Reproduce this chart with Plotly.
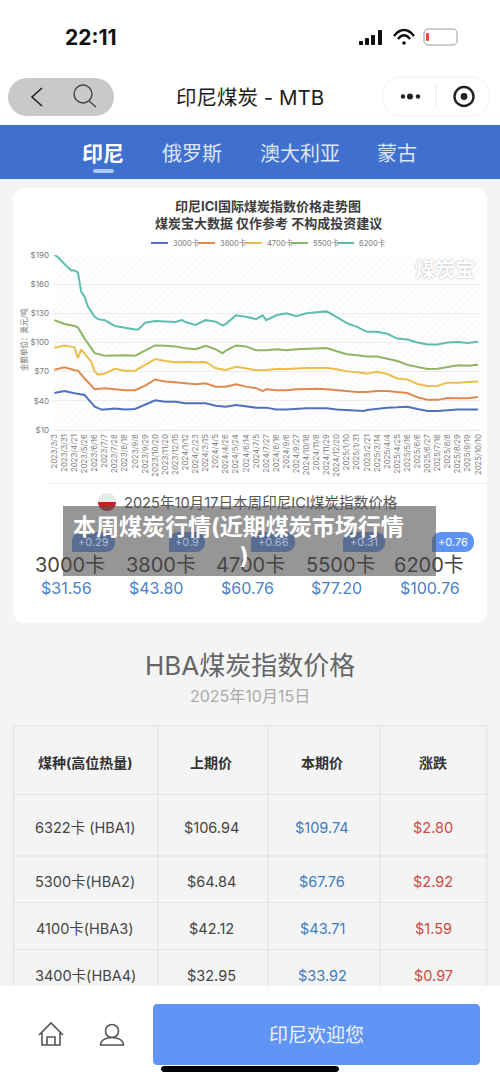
import plotly.graph_objects as go

FONT = "Inter, Noto Sans CJK SC"
W, H = 500, 1083

tick_weeks = list(range(0, 127, 3))
tick_labels = ["2023/3/3", "2023/3/31", "2023/4/21", "2023/5/26", "2023/6/16", "2023/7/7", "2023/7/28", "2023/8/18",
               "2023/9/8", "2023/9/29", "2023/10/20", "2023/11/20", "2023/12/15", "2024/1/12", "2024/2/23", "2024/3/15",
               "2024/4/5", "2024/4/26", "2024/5/24", "2024/6/14", "2024/7/5", "2024/7/27", "2024/8/16", "2024/9/6",
               "2024/9/27", "2024/10/18", "2024/11/8", "2024/11/29", "2024/12/20", "2025/1/10", "2025/1/31", "2025/2/21",
               "2025/3/14", "2025/4/4", "2025/4/25", "2025/5/16", "2025/6/6", "2025/6/27", "2025/7/18", "2025/8/8",
               "2025/8/29", "2025/9/19", "2025/10/10"]

# values read at every labelled week
vals_3000 = [48, 50, 47.7, 46, 34, 31, 32, 31, 31.6, 36, 40.5, 39, 39, 37.4, 37.4, 37.4, 35, 34, 35.7, 34.3, 33, 33, 31,
             31, 32, 32.3, 32.3, 32.3, 31, 30.6, 30.2, 30.5, 32, 33, 33.3, 34, 31.6, 29.5, 29.5, 30.6, 31, 31, 31]
vals_3800 = [72, 74.5, 71.4, 63, 52, 53, 52, 51, 51, 55.6, 62, 60, 59, 58, 57, 58, 54.6, 54.6, 57, 54.6, 53, 52, 51, 51,
             52, 52.5, 52.5, 52, 51, 50, 49, 49, 50, 50, 49, 48, 43.6, 41, 41, 43, 42.6, 42.6, 44]
vals_4700 = [94.7, 97, 95, 89, 70, 68, 73, 71, 71, 77, 83, 81, 79.6, 80, 79.6, 80, 73.4, 71.7, 75, 73.4, 71.4, 71.7, 72.7,
             72.7, 73.4, 73.8, 73.8, 73.8, 72.4, 70.3, 69.3, 68, 70, 67.6, 63, 62, 57.3, 55.3, 55.6, 58.7, 58.7, 59, 60]
vals_5500 = [123, 119, 117, 104, 89, 86.5, 87, 87, 86.5, 92, 97, 96.7, 96, 94, 93, 96.7, 93, 91.6, 97, 96, 92, 92, 93, 92,
             93, 93.6, 94, 94.3, 91, 88, 87, 85.5, 85.5, 83, 81, 77, 74.5, 72.7, 73, 75, 76.5, 76, 77]
vals_6200 = [190, 180.7, 174, 147, 126.5, 123, 117, 115, 113.5, 120.4, 122, 121.5, 121, 121, 118, 123, 121.5, 119, 128,
             126.5, 124, 123, 128, 130, 127, 130, 131, 132, 126, 120, 116, 111, 111, 109, 104, 103, 100, 98, 98, 100,
             100.5, 99.5, 100.7]

# extra readings between the labels where the curve has a visible bend: {week: value}
extra_3000 = {10: 42, 14: 31, 92: 29.5}
extra_3800 = {7: 71, 62: 50}
extra_4700 = {7: 84, 8: 93, 11: 80, 13: 67}
extra_5500 = {7: 115.6, 11: 94, 50: 89}
extra_6200 = {1: 188, 5: 174, 7: 172, 8: 152, 10: 137, 11: 131, 13: 124, 25: 113.3, 38: 123, 50: 117.5, 62: 128}


def merged(vals, extra):
    points = dict(zip(tick_weeks, vals))
    points.update(extra)
    weeks = sorted(points)
    return weeks, [points[w] for w in weeks]


series = [("3000卡", *merged(vals_3000, extra_3000), "#4e72be"), ("3800卡", *merged(vals_3800, extra_3800), "#e08a50"),
          ("4700卡", *merged(vals_4700, extra_4700), "#eebd4a"), ("5500卡", *merged(vals_5500, extra_5500), "#8cb661"),
          ("6200卡", *merged(vals_6200, extra_6200), "#5fbdb0")]
y_ticks = [10, 40, 70, 100, 130, 160, 190]

card_names = ["3000卡", "3800卡", "4700卡", "5500卡", "6200卡"]
card_prices = ["$31.56", "$43.80", "$60.76", "$77.20", "$100.76"]
card_changes = ["+0.29", "+0.9", "+0.66", "+0.31", "+0.76"]

table_header = ["煤种(高位热量)", "上期价", "本期价", "涨跌"]
table_rows = [["6322卡 (HBA1)", "$106.94", "$109.74", "$2.80"],
              ["5300卡(HBA2)", "$64.84", "$67.76", "$2.92"],
              ["4100卡(HBA3)", "$42.12", "$43.71", "$1.59"],
              ["3400卡(HBA4)", "$32.95", "$33.92", "$0.97"]]

shapes, annos = [], []


def px(x):
    return x / W


def py(y):
    return 1 - y / H


def rect(x0, y0, x1, y1, fill, line=None, lw=1, layer="below"):
    shapes.append(dict(type="rect", xref="paper", yref="paper", x0=px(x0), x1=px(x1), y0=py(y1), y1=py(y0),
                       fillcolor=fill, line=dict(color=line or "rgba(0,0,0,0)", width=lw if line else 0), layer=layer))


def path(d_pts, fill=None, line=None, lw=1.5, layer="above"):
    """d_pts: list of (cmd, x, y, ...) in page pixels, converted to paper coordinates."""
    parts = []
    for seg in d_pts:
        cmd, vals = seg[0], seg[1:]
        conv = [str(px(v)) if i % 2 == 0 else str(py(v)) for i, v in enumerate(vals)]
        parts.append(cmd + " " + " ".join(conv))
    shapes.append(dict(type="path", xref="paper", yref="paper", path=" ".join(parts), layer=layer,
                       fillcolor=fill or "rgba(0,0,0,0)", line=dict(color=line or "rgba(0,0,0,0)", width=lw if line else 0)))


def rrect(x0, y0, x1, y1, r, fill, line=None, lw=1, layer="below", square_bl=False):
    c = 0.45 * r
    bl = [("L", x0, y1)] if square_bl else [("L", x0 + r, y1), ("C", x0 + c, y1, x0, y1 - c, x0, y1 - r)]
    pts = [("M", x0 + r, y0), ("L", x1 - r, y0), ("C", x1 - c, y0, x1, y0 + c, x1, y0 + r), ("L", x1, y1 - r),
           ("C", x1, y1 - c, x1 - c, y1, x1 - r, y1)] + bl + [("L", x0, y0 + r), ("C", x0, y0 + c, x0 + c, y0, x0 + r, y0), ("Z",)]
    path(pts, fill, line, lw, layer)


def circle(cx, cy, r, fill=None, line=None, lw=1.5, layer="above"):
    shapes.append(dict(type="circle", xref="paper", yref="paper", x0=px(cx - r), x1=px(cx + r), y0=py(cy + r),
                       y1=py(cy - r), fillcolor=fill or "rgba(0,0,0,0)", layer=layer,
                       line=dict(color=line or "rgba(0,0,0,0)", width=lw if line else 0)))


def text(x, y, s, size, color, bold=False, anchor="center", font=FONT, angle=0, shadow=None):
    f = dict(family=font, size=size, color=color, weight=700 if bold else 400)
    if shadow:
        f["shadow"] = shadow
    annos.append(dict(xref="paper", yref="paper", x=px(x), y=py(y), text=s, showarrow=False, xanchor=anchor,
                      yanchor="middle", font=f, textangle=angle))


# page structure
rect(0, 0, 500, 1083, "#f4f4f4")
rect(0, 0, 500, 124, "#ffffff")
rect(0, 125, 500, 179, "#4070cf")
rrect(13, 188, 487, 623, 12, "#ffffff")

# status bar
text(91, 37, "22:11", 21, "#111111", True)
for i, (bx, top) in enumerate(zip([359, 365, 371, 378], [41, 38, 35, 30])):
    rrect(bx, top, bx + 4, 45, 1, "#111111", layer="above")
path([("M", 394, 36), ("C", 400, 28, 408, 28, 414, 36)], None, "#111111", 2.4)
path([("M", 398, 39), ("C", 402, 34, 406, 34, 410, 39)], None, "#111111", 2.4)
circle(404, 43, 1.8, "#111111")
rrect(424, 29, 457, 45, 4, "#ffffff", "#999999", 1, layer="above")
rrect(426, 33, 429, 41, 1, "#d9503f", layer="above")

# nav bar
rrect(8, 78, 114, 116, 19, "#c9c9c9")
path([("M", 42, 88), ("L", 32, 97), ("L", 42, 106)], None, "#222222", 1.6)
circle(83, 94, 9, None, "#444444", 1.4)
path([("M", 89, 101), ("L", 96, 107)], None, "#444444", 1.4)
text(250, 97, "印尼煤炭 - MTB", 20.5, "#1c1c1c")
rrect(382, 77, 490, 116, 19, "#ffffff", "#f0f0f0", 1)
circle(403, 96.5, 2.2, "#222222")
circle(410, 96.5, 3, "#222222")
circle(418, 96.5, 2.2, "#222222")
shapes.append(dict(type="line", xref="paper", yref="paper", x0=px(436), x1=px(436), y0=py(109), y1=py(84),
                   line=dict(color="#eeeeee", width=1)))
circle(464, 96.5, 9.5, None, "#222222", 2.4)
circle(464, 96.5, 3.4, "#222222")

# tabs
text(103, 154, "印尼", 21, "#ffffff", True)
text(192, 154, "俄罗斯", 20, "#dde6f7")
text(300, 154, "澳大利亚", 20, "#dde6f7")
text(397, 154, "蒙古", 20, "#dde6f7")
rrect(93, 169, 114, 173, 2, "#a8c8f5", layer="above")

# chart heading
text(268, 206, "印尼ICI国际煤炭指数价格走势图", 13, "#3d3d3d", True)
text(268, 223, "煤炭宝大数据 仅作参考 不构成投资建议", 13, "#3d3d3d", True)
for name, x0, (_, _, _, col) in zip(card_names, [151, 198, 245, 291, 337], series):
    shapes.append(dict(type="line", xref="paper", yref="paper", x0=px(x0), x1=px(x0 + 17), y0=py(243), y1=py(243),
                       line=dict(color=col, width=2)))
    text(x0 + 20, 243, name, 7.5, "#777777", anchor="left")
text(24, 340, "金额单位：美元/吨", 7.5, "#777777", angle=-90)
text(445, 270, "煤炭宝", 20, "#ffffff", True, shadow="0px 0px 2px #aaaaaa")

# index cards
rect(50, 483, 487, 484, "#eeeeee")
path([("M", 98, 502), ("C", 98, 490, 116, 490, 116, 502), ("Z",)], "#e9e9e9", layer="below")
path([("M", 98, 502), ("C", 98, 514, 116, 514, 116, 502), ("Z",)], "#c42222", layer="below")
text(261, 503, "2025年10月17日本周印尼ICI煤炭指数价格", 14.6, "#555555")
for (x0, x1), s in zip([(72, 115), (169, 205), (251, 295), (343, 385), (432, 474)], card_changes):
    rrect(x0, 532, x1, 552, 9, "#5f94f5", square_bl=True, layer="below")
for i, (cx, s) in enumerate(zip([93, 187, 273, 364, 453], card_changes)):
    text(cx, 542, s, 11, "#ffffff" if i == 4 else "#a9bbdb")
for cx, s in zip([70, 161, 250, 341, 429], card_names):
    text(cx, 565, s, 20, "#454545")
for cx, s in zip([66, 156, 247, 336, 430], card_prices):
    text(cx, 588, s, 16, "#4a7fc9")

# HBA table
text(250, 665, "HBA煤炭指数价格", 26, "#666666")
text(250, 696, "2025年10月15日", 16, "#aaaaaa")
col_edges = [13.5, 158, 268, 380, 487]
row_edges = [726, 794.5, 856, 902.5, 949.5]
col_centers = [85, 211, 322, 433]
row_centers = [827, 881, 928, 975]
for x in col_edges:
    rect(x - 0.6, 726, x + 0.6, 987, "#e2e2e2")
for y in row_edges:
    rect(13, y - 0.6, 487, y + 0.6, "#e2e2e2")
for cx, s in zip(col_centers, table_header):
    text(cx, 762, s, 14, "#333333", True)
for cy, row in zip(row_centers, table_rows):
    for j, (cx, s) in enumerate(zip(col_centers, row)):
        text(cx, cy, s, 14.5, ["#444444", "#444444", "#3f7cbf", "#cf4a43"][j])

# bottom bar
rect(0, 986, 500, 1083, "#ffffff", layer="above")
path([("M", 39, 1035), ("L", 51, 1023), ("L", 63, 1035), ("M", 42, 1033), ("L", 42, 1045), ("L", 60, 1045), ("L", 60, 1033),
      ("M", 47, 1045), ("L", 47, 1037), ("L", 55, 1037), ("L", 55, 1045)], None, "#555555", 1.6)
circle(112, 1031, 6.5, None, "#555555", 1.6)
path([("M", 100.5, 1045), ("C", 100.5, 1035, 123.5, 1035, 123.5, 1045), ("Z",)], None, "#555555", 1.6)
rrect(153, 1004, 480, 1065, 4, "#6094f5", layer="above")
text(316, 1035, "印尼欢迎您", 19, "#eef3fd")
rrect(161, 1066, 339, 1072, 3, "#000000", layer="above")

# grey caption band over the page
rect(63, 506, 436, 576, "rgba(85,85,85,0.62)", layer="above")
text(238, 527, "本周煤炭行情(近期煤炭市场行情", 23, "#ffffff", True)
text(244, 556, ")", 23, "#ffffff", True)

fig = go.Figure()
fig.add_trace(go.Scatter(x=[-0.4, 126.6, 126.6, -0.4], y=[10, 10, 190, 190], mode="lines", fill="toself",
                         line=dict(width=0), fillcolor="rgba(0,0,0,0)", hoverinfo="skip", showlegend=False,
                         fillpattern=dict(shape="/", fgcolor="#f1f1f1", bgcolor="rgba(255,255,255,0)", size=5, solidity=0.25)))
for name, wk, vals, col in series:
    fig.add_trace(go.Scatter(x=wk, y=vals, mode="lines", name=name, line=dict(color=col, width=2), showlegend=False))

fig.update_layout(
    width=W, height=H, margin=dict(l=0, r=0, t=0, b=0, autoexpand=False), autosize=False, showlegend=False,
    paper_bgcolor="#f4f4f4", plot_bgcolor="rgba(0,0,0,0)", shapes=shapes, annotations=annos,
    font=dict(family=FONT),
    xaxis=dict(domain=[px(53), px(480)], range=[-0.4, 126.6], tickmode="array", tickvals=tick_weeks, ticktext=tick_labels,
               tickangle=-90, tickfont=dict(size=7.8, color="#777777"), showgrid=False, zeroline=False,
               showline=True, linecolor="#e8e8e8", ticks="", anchor="y"),
    yaxis=dict(domain=[py(430), py(255)], range=[10, 190], tickmode="array", tickvals=y_ticks, ticklabelstandoff=3,
               ticktext=[f"${v}" for v in y_ticks], tickfont=dict(size=8, color="#777777"),
               gridcolor="#ececec", gridwidth=1, zeroline=False, ticks="", anchor="x"),
)

fig.write_html("out.html", config={"displayModeBar": False},
               post_script='document.body.style.margin="0";document.body.style.overflow="hidden";')
